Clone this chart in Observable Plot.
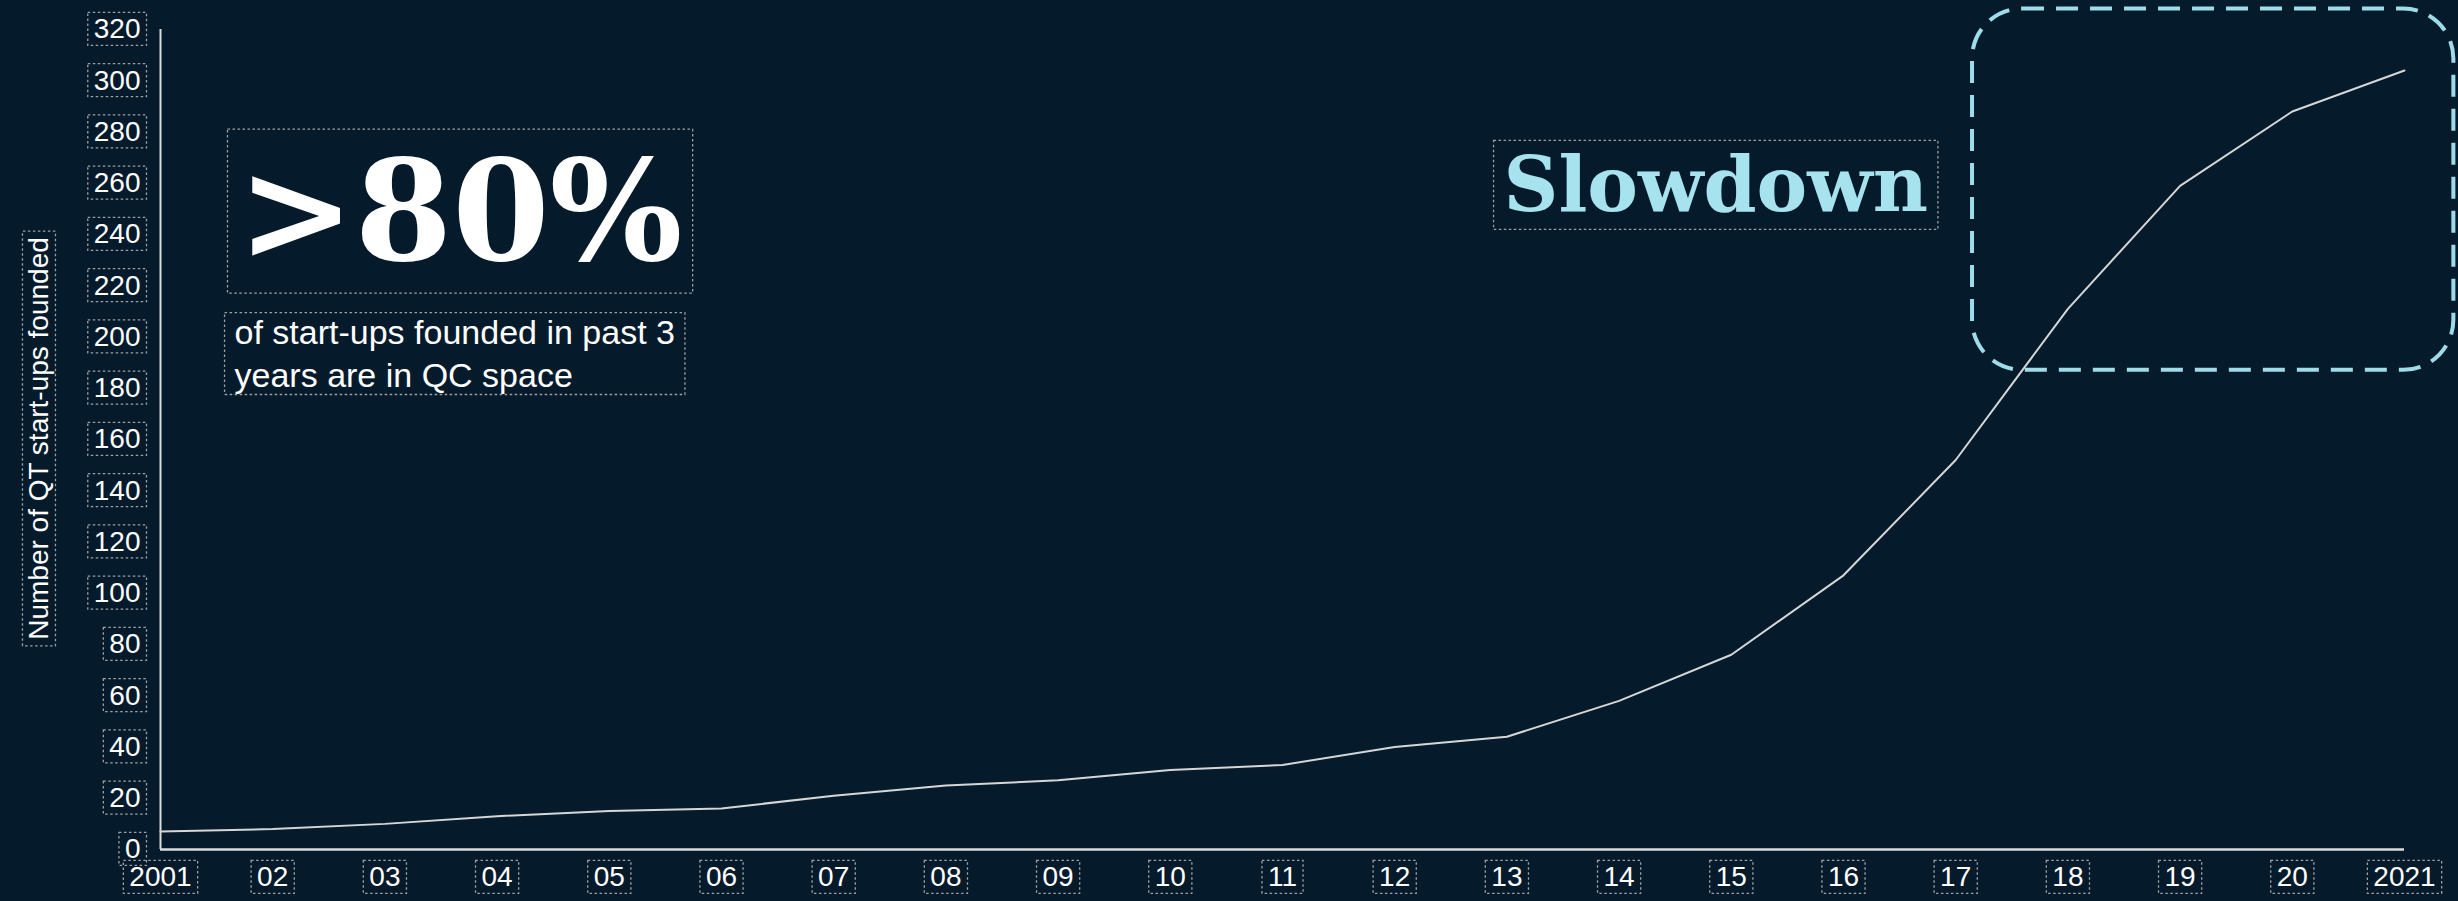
<!DOCTYPE html>
<html>
<head>
<meta charset="utf-8">
<script src="https://cdn.jsdelivr.net/npm/d3@7"></script>
<script src="https://cdn.jsdelivr.net/npm/@observablehq/plot@0.6"></script>
<style>
  html, body { margin: 0; padding: 0; background: #051b2b; }
  #chart svg { display: block; }
</style>
</head>
<body>
<div id="chart"></div>
<script>
// ---- data ----
const years = [2001, 2002, 2003, 2004, 2005, 2006, 2007, 2008, 2009, 2010, 2011,
               2012, 2013, 2014, 2015, 2016, 2017, 2018, 2019, 2020, 2021];
const startups = [7, 8, 10, 13, 15, 16, 21, 25, 27, 31, 33,
                  40, 44, 58, 76, 107, 152, 211, 259, 288, 304];
const xTickLabels = ["2001", "02", "03", "04", "05", "06", "07", "08", "09", "10", "11",
                     "12", "13", "14", "15", "16", "17", "18", "19", "20", "2021"];
const yTicks = [0, 20, 40, 60, 80, 100, 120, 140, 160, 180, 200, 220, 240, 260, 280, 300, 320];
const yLabel = "Number of QT start-ups founded";
const statText = [">80%"];
const statNote = ["of start-ups founded in past 3\nyears are in QC space"];
const slowdownText = ["Slowdown"];

// ---- build ----
const rows = years.map((yr, i) => ({year: yr, n: startups[i]}));
const labelOf = new Map(years.map((yr, i) => [yr, xTickLabels[i]]));

const W = 2458, H = 901;
const plot = Plot.plot({
  width: W,
  height: H,
  marginLeft: 160,
  marginRight: 54,
  marginTop: 29,
  marginBottom: 52,
  style: {background: "#051b2b", color: "white", fontFamily: "'Liberation Sans', Arial, sans-serif", fontSize: "28px"},
  x: {domain: [2001, 2021], axis: null},
  y: {domain: [0, 320], axis: null},
  marks: [
    Plot.axisX(years, {tickSize: 0, tickPadding: 17, tickFormat: d => labelOf.get(d), fontSize: 28, label: null}),
    Plot.axisY(yTicks, {tickSize: 0, tickPadding: 20, fontSize: 28, label: null}),
    Plot.ruleX([2001], {stroke: "#dcdcdc", strokeWidth: 2}),
    Plot.ruleY([0], {stroke: "#dcdcdc", strokeWidth: 2.5}),
    Plot.line(rows, {x: "year", y: "n", stroke: "#d6d6d6", strokeWidth: 2}),
    // slowdown highlight box (data coordinates)
    Plot.rect([{x1: 2017.15, x2: 2021.44, y1: 187, y2: 328}],
      {x1: "x1", x2: "x2", y1: "y1", y2: "y2", fill: "none", stroke: "#9fdcea",
       strokeWidth: 4, strokeDasharray: "22,12", rx: 50, ry: 50}),
    // annotations
    Plot.text(statText, {x: () => 2003.67, y: () => 230, text: d => d, textAnchor: "middle", lineAnchor: "bottom",
      fontFamily: "'DejaVu Serif', serif", fontWeight: "bold", fontSize: 140, fill: "white"}),
    Plot.text(statNote, {x: () => 2001.66, y: () => 180.3, text: d => d, textAnchor: "start", lineAnchor: "bottom",
      fontSize: 34, lineHeight: 1.29, fill: "white"}),
    Plot.text(slowdownText, {x: () => 2012.97, y: () => 249, text: d => d, textAnchor: "start", lineAnchor: "bottom",
      fontFamily: "'DejaVu Serif', serif", fontWeight: "bold", fontSize: 76, fill: "#a6e3ef"}),
    // y axis label
    Plot.text([yLabel], {frameAnchor: "left", text: d => d, rotate: -90, dx: -121, dy: -1,
      textAnchor: "middle", lineAnchor: "middle", fontSize: 28, fill: "white"})
  ]
});

document.getElementById("chart").appendChild(plot);

// dotted outline boxes around every text element (as in the reference)
const svg = plot.tagName.toLowerCase() === "svg" ? plot : plot.querySelector("svg");
svg.querySelectorAll("text").forEach(t => {
  const b = t.getBBox();
  if (!b.width) return;
  const big = b.height > 60;
  const px = big ? 10 : 6, py = big ? 0 : 1;
  const r = document.createElementNS("http://www.w3.org/2000/svg", "rect");
  r.setAttribute("x", b.x - px);
  r.setAttribute("y", b.y - py);
  r.setAttribute("width", b.width + 2 * px);
  r.setAttribute("height", b.height + 2 * py);
  r.setAttribute("fill", "none");
  r.setAttribute("stroke", "#a0a0a0");
  r.setAttribute("stroke-width", "1.3");
  r.setAttribute("stroke-dasharray", "2.5,2.5");
  const tr = t.getAttribute("transform");
  if (tr) r.setAttribute("transform", tr);
  t.parentNode.insertBefore(r, t);
});
</script>
</body>
</html>
